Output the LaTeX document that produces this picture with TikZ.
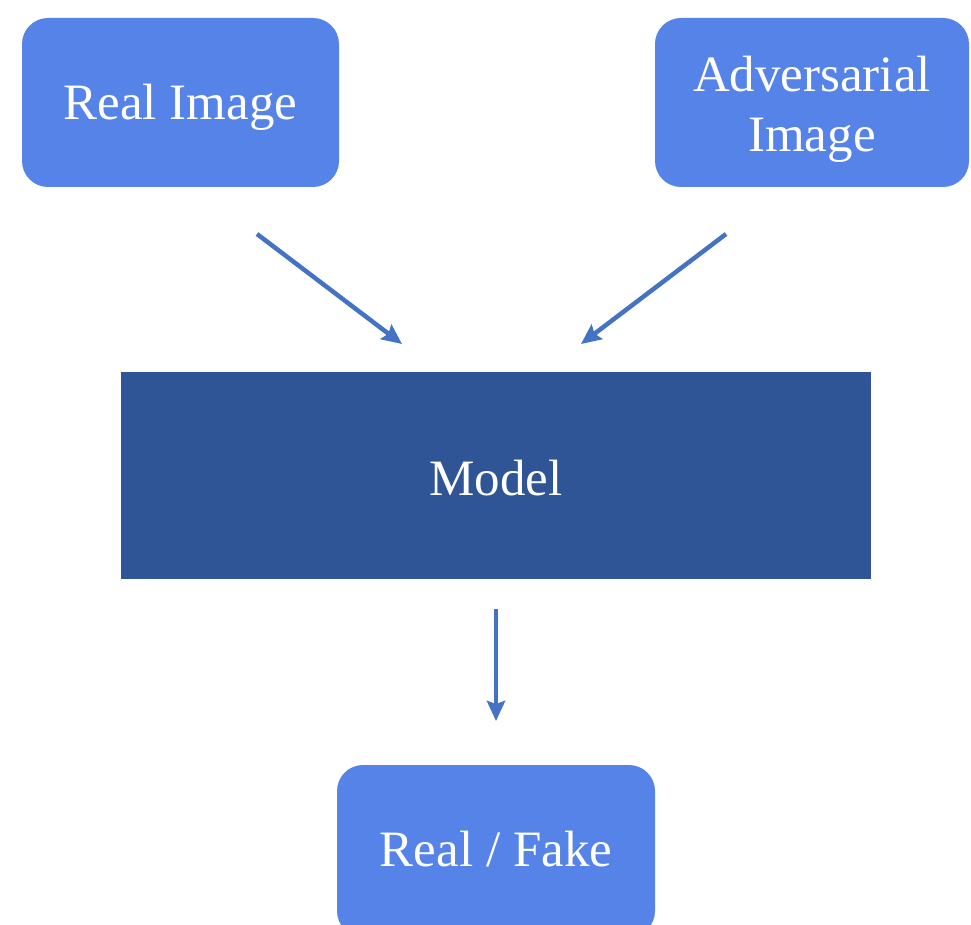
\documentclass[tikz,border=0pt]{standalone}
\usepackage{fontspec}
\setmainfont{Liberation Serif}
\usetikzlibrary{arrows.meta}
\definecolor{boxblue}{HTML}{5583E8}
\definecolor{darkblue}{HTML}{2F5597}
\definecolor{arrowblue}{HTML}{4472C4}
\tikzset{
  lightbox/.style={fill=boxblue, draw=none, rounded corners=26pt, text=white, align=center, inner sep=0pt},
  modelbox/.style={fill=darkblue, draw=none, text=white, inner sep=0pt},
  conn/.style={draw=arrowblue, line width=4.5pt, -{Stealth[length=20pt,width=18pt,inset=3pt]}},
}
\begin{document}
\begin{tikzpicture}[x=1pt,y=-1pt]
\useasboundingbox (0,0) rectangle (971,925);
\clip (0,0) rectangle (971,925);
\fontsize{51}{60}\selectfont
\node[lightbox, minimum width=317pt, minimum height=169pt] (real) at (180.5,102.5) {};
\node[text=white] (realt) at (180.5,107.5) {Real Image};
\node[lightbox, minimum width=314pt, minimum height=169pt] (adv) at (812,102.5) {};
\node[text=white, align=center] (advt) at (812,109.5) {Adversarial\\Image};
\node[modelbox, minimum width=750pt, minimum height=207pt] (model) at (496,475.5) {};
\node[text=white] (modelt) at (496,478.5) {Model};
\node[lightbox, minimum width=318pt, minimum height=172pt] (out) at (496,851) {};
\node[text=white] (outt) at (496,849) {Real / Fake};
\coordinate (a1s) at (257,234);
\coordinate (a1e) at (402,344);
\coordinate (a2s) at (726,234);
\coordinate (a2e) at (581,344);
\coordinate (a3s) at (496,609);
\coordinate (a3e) at (496,721);
\draw[conn] (a1s) -- (a1e);
\draw[conn] (a2s) -- (a2e);
\draw[conn] (a3s) -- (a3e);
\end{tikzpicture}
\end{document}
